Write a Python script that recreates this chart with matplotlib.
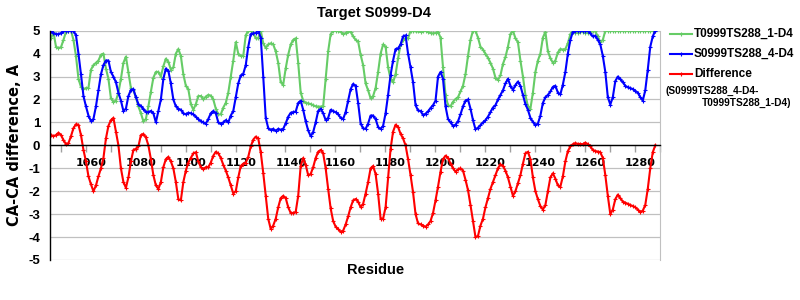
import numpy as np
import matplotlib
matplotlib.use('Agg')
import matplotlib.pyplot as plt
from matplotlib.lines import Line2D

plt.rcParams['axes.unicode_minus'] = False

# Номера остатков
residues = list(range(1044, 1287))

# T0999TS288_1-D4
green_vals = [
    4.67, 4.93, 4.3, 4.24, 4.28, 4.6, 4.95, 5.0, 5.0, 4.6,
    3.9, 2.9, 2.55, 2.45, 2.5, 2.5, 3.3, 3.5, 3.6, 3.7,
    3.95, 4.0, 3.35, 2.9, 2.05, 1.9, 1.95, 2.3, 2.9, 3.6,
    3.87, 3.2, 2.5, 2.4, 2.1, 1.7, 1.4, 1.05, 1.15, 1.7,
    2.34, 2.95, 3.2, 3.2, 3.0, 3.45, 3.78, 3.65, 3.3, 3.4,
    4.0, 4.2, 3.9, 3.1, 2.6, 2.45, 1.8, 1.55, 1.8, 2.15,
    2.15, 2.0, 2.13, 2.2, 2.17, 2.0, 1.6, 1.35, 1.35, 1.65,
    1.85, 2.3, 3.0, 3.7, 4.5, 4.0, 3.9, 3.9, 4.8, 5.0,
    5.0, 4.9, 4.67, 4.67, 5.0, 4.45, 4.25, 4.4, 4.45, 4.4,
    4.1, 3.6, 2.75, 2.65, 3.36, 3.95, 4.4, 4.6, 4.67, 3.6,
    2.3, 1.95, 1.85, 1.83, 1.8, 1.75, 1.7, 1.69, 1.69, 1.7,
    2.9, 4.1, 4.85, 5.0, 5.0, 5.0, 4.95, 4.85, 4.9, 4.97,
    4.95, 4.75, 4.6, 4.53, 3.95, 3.5, 2.7, 2.4, 2.05, 2.15,
    2.5, 3.2, 4.0, 4.4, 4.3, 3.4, 2.9, 2.75, 3.1, 3.8,
    4.4, 4.6, 4.67, 4.67, 5.0, 5.0, 4.97, 4.97, 4.95, 4.97,
    5.0, 4.95, 4.9, 4.88, 4.9, 4.95, 4.7, 3.4, 2.2, 1.75,
    1.7, 1.9, 2.02, 2.1, 2.35, 2.6, 3.1, 3.9, 4.6, 5.0,
    5.0, 4.7, 4.3, 4.18, 4.0, 3.82, 3.6, 3.35, 2.95, 2.85,
    3.05, 3.55, 3.85, 4.3, 4.85, 5.0, 4.67, 4.5, 3.7, 3.0,
    2.2, 1.7, 1.6, 2.3, 3.2, 3.7, 4.0, 4.7, 4.95, 4.1,
    3.8, 3.6, 3.7, 4.05, 4.2, 4.18, 4.2, 4.45, 4.85, 5.0,
    4.92, 4.92, 4.95, 4.95, 4.9, 4.9, 4.95, 5.0, 4.97, 4.75,
    4.5, 4.6, 5.0, 5.0, 5.0, 5.0, 5.0, 5.0, 5.0, 5.0,
    5.0, 5.0, 5.0, 5.0, 5.0, 5.0, 5.0, 5.0, 5.0, 5.0,
    5.0, 5.0, 5.0,
]

# S0999TS288_4-D4
blue_vals = [
    5.0, 4.9, 4.85, 4.85, 4.9, 4.97, 5.0, 5.0, 5.0, 5.0,
    4.8, 4.0, 3.1, 2.15, 1.7, 1.3, 1.06, 1.15, 1.7, 2.4,
    3.1, 3.5, 3.7, 3.7, 3.2, 3.0, 2.75, 2.3, 1.95, 1.5,
    1.6, 2.15, 2.42, 2.45, 2.1, 1.8, 1.7, 1.6, 1.45, 1.45,
    1.5, 1.4, 1.0, 1.5, 2.0, 2.9, 3.35, 3.25, 2.7, 2.0,
    1.7, 1.6, 1.55, 1.4, 1.35, 1.42, 1.4, 1.35, 1.25, 1.15,
    1.05, 1.0, 0.95, 1.15, 1.4, 1.5, 1.4, 1.0, 0.95, 1.0,
    1.1, 1.0, 1.3, 1.5, 2.1, 2.7, 3.05, 3.12, 3.5, 4.3,
    4.85, 4.88, 4.9, 5.0, 4.7, 3.0, 1.2, 0.75, 0.67, 0.72,
    0.63, 0.72, 0.68, 0.72, 0.96, 1.25, 1.42, 1.45, 1.47, 1.85,
    1.95, 1.55, 1.05, 0.65, 0.4, 0.58, 1.0, 1.5, 1.6, 1.4,
    1.1, 1.2, 1.55, 1.5, 1.44, 1.35, 1.2, 1.15, 1.45, 1.95,
    2.45, 2.68, 2.6, 1.85, 0.95, 0.74, 0.72, 0.95, 1.3, 1.3,
    1.15, 0.8, 0.71, 0.85, 1.4, 2.2, 3.07, 3.7, 4.2, 4.23,
    4.4, 4.75, 4.8, 4.0, 3.4, 2.75, 1.75, 1.52, 1.5, 1.32,
    1.38, 1.48, 1.63, 1.75, 1.95, 3.0, 3.2, 2.9, 1.7, 1.15,
    1.0, 0.85, 0.9, 1.05, 1.35, 1.7, 1.95, 2.0, 1.6, 1.1,
    0.7, 0.77, 0.88, 1.0, 1.1, 1.25, 1.45, 1.65, 1.75, 2.0,
    2.2, 2.4, 2.7, 2.9, 2.6, 2.42, 2.63, 2.78, 2.6, 2.2,
    1.8, 1.55, 1.2, 1.02, 0.89, 0.95, 1.3, 1.85, 2.1, 2.2,
    2.35, 2.55, 2.6, 2.3, 2.22, 2.65, 3.2, 4.0, 4.6, 4.95,
    5.0, 5.0, 5.0, 5.0, 5.0, 5.0, 4.88, 4.75, 4.78, 4.6,
    4.4, 3.9, 3.2, 2.1, 1.78, 2.1, 2.8, 3.0, 2.9, 2.75,
    2.6, 2.53, 2.5, 2.45, 2.38, 2.3, 2.1, 1.95, 2.4, 3.3,
    4.3, 4.75, 5.0,
]

# Difference (S0999TS288_4-D4 - T0999TS288_1-D4)
red_vals = [
    0.45, 0.4, 0.45, 0.55, 0.45, 0.23, 0.05, 0.1, 0.4, 0.75,
    0.92, 0.9, 0.45, -0.2, -0.7, -1.35, -1.7, -2.0, -1.75, -1.35,
    -1.0, -0.55, 0.3, 0.85, 1.1, 1.2, 0.6, 0.0, -1.0, -1.6,
    -1.85, -1.4, -0.7, -0.2, -0.15, -0.05, 0.45, 0.5, 0.35, 0.0,
    -0.6, -1.3, -1.75, -1.9, -1.6, -0.95, -0.6, -0.5, -0.7, -1.0,
    -1.6, -2.35, -2.4, -1.6, -1.1, -0.75, -0.55, -0.35, -0.3, -0.7,
    -0.95, -1.05, -0.95, -0.95, -0.75, -0.45, -0.28, -0.35, -0.55, -0.85,
    -1.1, -1.4, -1.75, -2.1, -2.0, -1.4, -0.9, -0.8, -0.75, -0.5,
    -0.05, 0.25, 0.38, 0.3, -0.3, -1.2, -2.2, -3.2, -3.65, -3.5,
    -3.2, -2.7, -2.3, -2.2, -2.3, -2.7, -2.95, -2.95, -2.9, -2.2,
    -0.9, -0.55, -0.85, -1.3, -1.25, -0.95, -0.55, -0.28, -0.2, -0.35,
    -1.0, -1.9, -2.75, -3.3, -3.55, -3.65, -3.77, -3.72, -3.45, -3.1,
    -2.7, -2.4, -2.34, -2.45, -2.7, -2.55, -2.1, -1.6, -1.0, -0.9,
    -1.25, -2.1, -3.2, -3.2, -2.7, -1.4, -0.15, 0.6, 0.9, 0.8,
    0.5, 0.3, 0.0, -0.6, -1.3, -2.05, -3.0, -3.4, -3.45, -3.5,
    -3.55, -3.45, -3.3, -2.95, -2.4, -1.8, -1.15, -0.6, -0.45, -0.55,
    -0.8, -1.0, -1.15, -1.05, -1.0, -1.1, -1.5, -1.95, -2.6, -3.3,
    -4.0, -3.95, -3.5, -3.2, -2.7, -2.3, -1.9, -1.6, -1.3, -1.0,
    -0.83, -0.9, -1.1, -1.4, -1.8, -2.2, -2.0, -1.65, -1.3, -0.8,
    -0.35, -0.28, -0.6, -1.4, -2.0, -2.35, -2.65, -2.8, -2.6, -2.0,
    -1.4, -1.22, -1.45, -1.75, -1.8, -1.35, -0.7, -0.25, -0.05, 0.05,
    0.1, 0.06, 0.06, 0.05, 0.12, 0.05, -0.05, -0.2, -0.25, -0.27,
    -0.3, -0.55, -1.3, -2.2, -3.0, -2.8, -2.35, -2.15, -2.3, -2.45,
    -2.5, -2.55, -2.6, -2.65, -2.7, -2.8, -2.9, -2.85, -2.6, -1.9,
    -1.0, -0.3, 0.0,
]

label_ticks = list(range(1060, 1281, 20))

GREEN = '#66CC66'
BLUE = '#0000FF'
RED = '#FF0000'
GRID = '#C0C0C0'
NARROW = ['Liberation Sans', 'DejaVu Sans']

fig = plt.figure(figsize=(8, 3), dpi=100)
ax = fig.add_axes([50 / 800, 40 / 300, 610 / 800, 229.3 / 300])

style = dict(lw=1.5, marker='+', ms=3, mew=0.8)
ax.plot(residues, green_vals, color=GREEN, **style)
ax.plot(residues, blue_vals, color=BLUE, **style)
ax.plot(residues, red_vals, color=RED, **style)

ax.set_xlim(1043.6, 1287.6)
ax.set_ylim(-5, 5)
ax.set_yticks(range(-5, 6))
ax.yaxis.grid(True, color=GRID, lw=0.9)

# Ось X проходит через ноль
ax.spines['bottom'].set_position(('data', 0))
ax.spines['bottom'].set_color('black')
ax.spines['bottom'].set_linewidth(1.0)
ax.spines['top'].set_visible(False)
ax.spines['right'].set_color(GRID)
ax.spines['left'].set_linewidth(1.0)

ax.set_xticks(label_ticks)
ax.set_xticks(np.arange(1047.9, 1288, 10), minor=True)
ax.tick_params(axis='x', which='major', length=0, pad=9, labelsize=8)
ax.tick_params(axis='x', which='minor', length=5, color='#A0A0A0', width=1)
ax.tick_params(axis='y', length=0, pad=7, labelsize=9.5)
for lab in ax.get_xticklabels():
    lab.set_fontweight('bold')
for lab in ax.get_yticklabels():
    lab.set_fontweight('bold')
    lab.set_family(NARROW)

fig.text(374 / 800, 1 - 13 / 300, 'Target S0999-D4', ha='center', va='center',
         fontsize=10.5, fontweight='bold', family=NARROW)
fig.text(376 / 800, 1 - 270 / 300, 'Residue', ha='center', va='center',
         fontsize=10.5, fontweight='bold', family=NARROW)
fig.text(15 / 800, 1 - 145 / 300, 'CA-CA difference, A', ha='center', va='center',
         rotation=90, fontsize=10.5, fontweight='bold')

# Легенда справа
legend_rows = [(34, GREEN, 'T0999TS288_1-D4'),
               (54, BLUE, 'S0999TS288_4-D4'),
               (74, RED, 'Difference')]
for y, col, txt in legend_rows:
    fy = 1 - y / 300
    fig.add_artist(Line2D([670 / 800, 692 / 800], [fy, fy], color=col, lw=1.5))
    fig.add_artist(Line2D([681 / 800], [fy], color=col, marker='+', ms=3, mew=0.8))
    fig.text(694 / 800, fy, txt, ha='left', va='center', fontsize=8.5,
             fontweight='bold', family=NARROW)
fig.text(665 / 800, 1 - 91 / 300, '(S0999TS288_4-D4-', ha='left', va='center',
         fontsize=7.3, fontweight='bold', family=NARROW)
fig.text(702 / 800, 1 - 103 / 300, 'T0999TS288_1-D4)', ha='left', va='center',
         fontsize=7.3, fontweight='bold', family=NARROW)

fig.savefig('out.png', dpi=100)
